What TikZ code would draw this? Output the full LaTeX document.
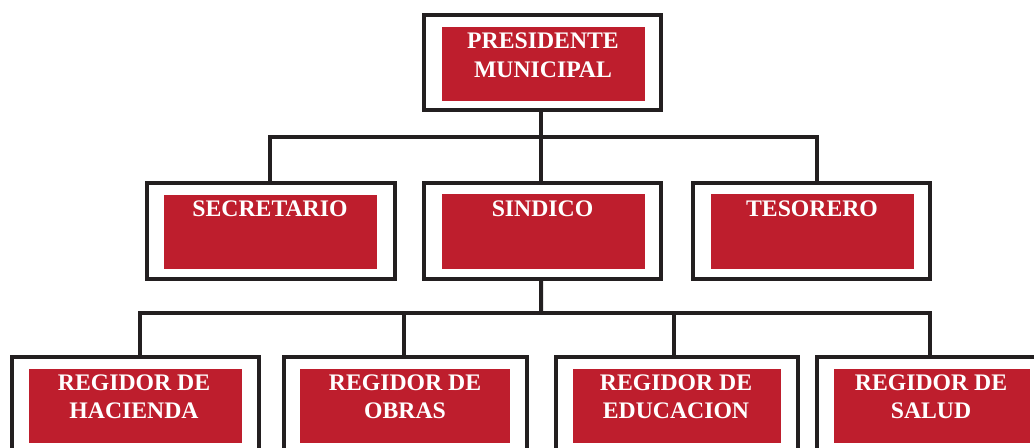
\documentclass[tikz,border=0pt]{standalone}
\usepackage{fontspec}
\setmainfont{Liberation Serif}
\definecolor{redc}{HTML}{BE1E2D}
\definecolor{lineblk}{HTML}{231F20}
\begin{document}
\begin{tikzpicture}[x=1bp,y=-1bp,
  frame/.style={draw=lineblk, line width=4bp, fill=white, rectangle, inner sep=0pt, outer sep=0pt},
  redbox/.style={fill=redc, rectangle, inner sep=0pt, outer sep=0pt, draw=none},
  lbl/.style={text=white, font=\bfseries\fontsize{23.8}{30}\selectfont, align=center, inner sep=0pt, anchor=base},
  lblb/.style={lbl, font=\bfseries\fontsize{23.8}{28}\selectfont},
  conn/.style={draw=lineblk, line width=4bp}]
\useasboundingbox (0,0) rectangle (1034,448);
\clip (0,0) rectangle (1034,448);
% outer frames
\node[frame, minimum width=236.5bp, minimum height=95.5bp] (pres) at (542.25,62.75) {};
\node[frame, minimum width=248bp, minimum height=96bp] (sec) at (271,231) {};
\node[frame, minimum width=236.5bp, minimum height=96bp] (sind) at (542.25,231) {};
\node[frame, minimum width=236.5bp, minimum height=96bp] (tes) at (811.25,231) {};
\node[frame, minimum width=246.5bp, minimum height=143bp] (hac) at (135.25,428.5) {};
\node[frame, minimum width=243bp, minimum height=143bp] (obr) at (405.5,428.5) {};
\node[frame, minimum width=242.5bp, minimum height=143bp] (edu) at (676.75,428.5) {};
\node[frame, minimum width=225bp, minimum height=143bp] (sal) at (929.5,428.5) {};
% red inner boxes
\node[redbox, minimum width=203bp, minimum height=74bp] (presR) at (543.5,64) {};
\node[redbox, minimum width=213bp, minimum height=74bp] (secR) at (270.5,232) {};
\node[redbox, minimum width=203bp, minimum height=75bp] (sindR) at (543.5,231.5) {};
\node[redbox, minimum width=203bp, minimum height=75bp] (tesR) at (812.5,231.5) {};
\node[redbox, minimum width=213bp, minimum height=74bp] (hacR) at (135.5,406) {};
\node[redbox, minimum width=210bp, minimum height=74bp] (obrR) at (405,406) {};
\node[redbox, minimum width=208bp, minimum height=74bp] (eduR) at (677,406) {};
\node[redbox, minimum width=196bp, minimum height=74bp] (salR) at (932,406) {};
% labels (base anchor = baseline of last line)
\node[lbl] (presT) at (543,78) {PRESIDENTE\\MUNICIPAL};
\node[lbl] (secT) at (270,217) {SECRETARIO};
\node[lbl] (sindT) at (542.5,217) {SINDICO};
\node[lbl] (tesT) at (812,216.5) {TESORERO};
\node[lblb] (hacT) at (134,418) {REGIDOR DE\\HACIENDA};
\node[lblb] (obrT) at (405,418) {REGIDOR DE\\OBRAS};
\node[lblb] (eduT) at (676,418) {REGIDOR DE\\EDUCACION};
\node[lblb] (salT) at (931,418) {REGIDOR DE\\SALUD};
% connectors
\coordinate (bus1) at (541,137);
\coordinate (bus2) at (541,313);
\draw[conn] ([xshift=-1.25bp]pres.south) -- ([xshift=-1.25bp]sind.north);
\draw[conn] ([xshift=-1bp]sec.north) |- (bus1) -| ([xshift=5.75bp]tes.north);
\draw[conn] ([xshift=-1.25bp]sind.south) -- (bus2);
\draw[conn] ([xshift=4.5bp]hac.north) |- (bus2) -| ([xshift=0.25bp]sal.north);
\draw[conn] ([xshift=-1.5bp]obr.north) -- ([xshift=-1.5bp]obr.north |- bus2);
\draw[conn] ([xshift=-3bp]edu.north) -- ([xshift=-3bp]edu.north |- bus2);
\end{tikzpicture}
\end{document}
